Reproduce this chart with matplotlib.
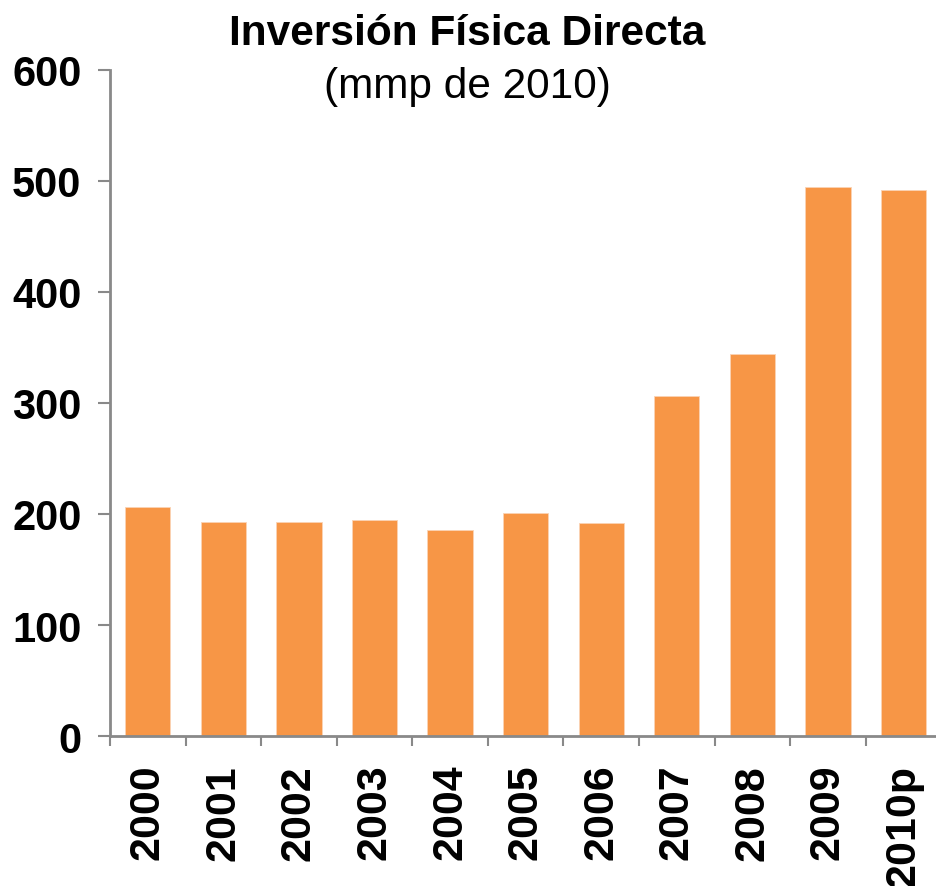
import matplotlib.pyplot as plt
import numpy as np

plt.rcParams['font.family'] = ['Liberation Sans', 'DejaVu Sans']

# Datos (mmp de 2010)
anios = ["2000", "2001", "2002", "2003", "2004", "2005", "2006", "2007", "2008", "2009", "2010p"]
inversion = [206, 193, 193, 195, 186, 201, 192, 306, 344, 495, 492]
ticks_y = [0, 100, 200, 300, 400, 500, 600]

naranja = "#F79646"
gris = "#898989"

fig = plt.figure(figsize=(9.36, 8.87), dpi=100)
ax = fig.add_axes([0.1175, 0.1691, 0.8825, 0.7509])

x = np.arange(len(anios))
ax.bar(x, inversion, width=0.6, color=naranja, edgecolor="#FAD3B5", linewidth=0.6)

ax.set_ylim(0, 600)
ax.set_xlim(-0.5, 10.43)
ax.set_yticks(ticks_y)
ax.set_yticklabels([str(t) for t in ticks_y], fontsize=30, fontweight="bold")

# etiquetas en el centro, marcas entre categorias
ax.set_xticks(x)
ax.set_xticklabels(anios, rotation=90, fontsize=31, fontweight="bold", va="top")
ax.set_xticks(np.arange(len(anios)) - 0.5, minor=True)
ax.tick_params(axis="x", which="major", length=0, pad=20)
ax.tick_params(axis="x", which="minor", length=7, width=1.5, color=gris)
ax.tick_params(axis="y", length=8.5, width=1.5, color=gris, pad=12)

for lado in ["top", "right"]:
    ax.spines[lado].set_visible(False)
for lado in ["left", "bottom"]:
    ax.spines[lado].set_color(gris)
    ax.spines[lado].set_linewidth(2)

fig.text(0.499, 0.962, "Inversión Física Directa", ha="center", va="center",
         fontsize=30.5, fontweight="bold")
fig.text(0.499, 0.902, "(mmp de 2010)", ha="center", va="center", fontsize=30.5)

fig.savefig("out.png", dpi=100)
